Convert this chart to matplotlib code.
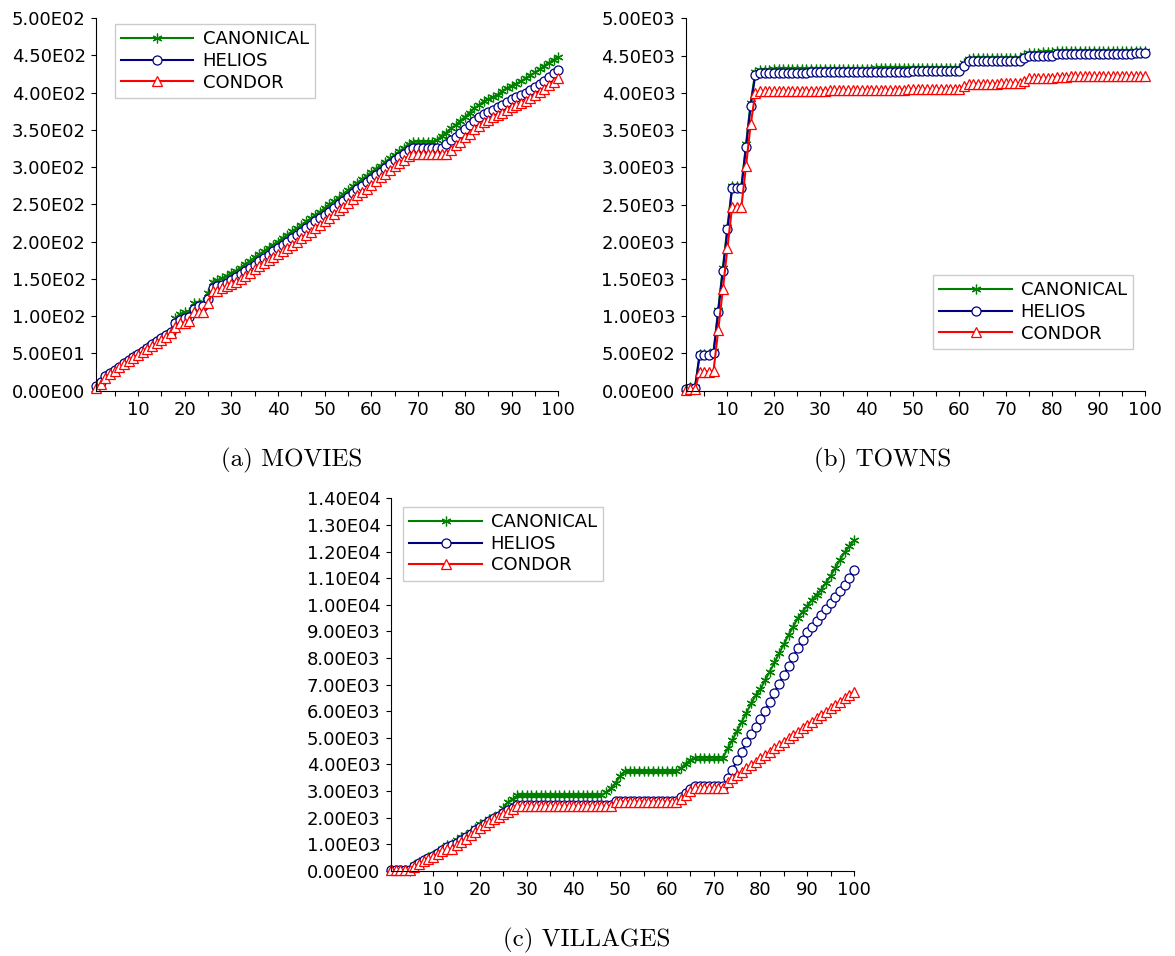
import numpy as np
import matplotlib
matplotlib.use('Agg')
import matplotlib.pyplot as plt
from matplotlib.ticker import FuncFormatter

x = list(range(1, 101))

# (a) MOVIES
movies_canonical = [5, 11, 20, 24, 28, 32, 37, 41, 46, 49,
                    53, 58, 62, 66, 70, 74, 79, 97, 103, 105,
                    105, 117, 118, 119, 131, 146, 148, 151, 154, 158,
                    161, 165, 170, 174, 179, 183, 187, 192, 196, 200,
                    205, 209, 214, 218, 222, 227, 231, 236, 240, 245,
                    250, 254, 259, 264, 269, 274, 279, 284, 288, 293,
                    298, 302, 307, 312, 316, 321, 326, 331, 334, 334,
                    334, 334, 334, 336, 342, 346, 352, 356, 362, 367,
                    373, 379, 383, 388, 391, 394, 397, 402, 406, 409,
                    412, 415, 419, 423, 427, 431, 436, 440, 444, 448]
movies_helios = [6, 11, 20, 24, 28, 32, 37, 41, 45, 49,
                 53, 57, 62, 66, 70, 74, 78, 90, 95, 97,
                 99, 110, 113, 114, 123, 137, 140, 142, 145, 148,
                 152, 156, 160, 165, 169, 174, 178, 182, 187, 191,
                 196, 200, 205, 209, 213, 218, 222, 227, 231, 236,
                 240, 245, 250, 255, 260, 265, 270, 275, 280, 284,
                 289, 294, 299, 304, 309, 314, 318, 323, 326, 326,
                 326, 326, 326, 326, 326, 331, 336, 341, 346, 351,
                 357, 362, 367, 371, 374, 376, 380, 383, 387, 391,
                 394, 397, 400, 403, 407, 411, 416, 421, 426, 430]
movies_condor = [4, 9, 17, 22, 26, 31, 35, 40, 44, 48,
                 52, 56, 60, 64, 68, 72, 77, 85, 90, 90,
                 93, 105, 106, 106, 117, 133, 134, 137, 140, 143,
                 146, 150, 154, 158, 163, 167, 171, 175, 179, 183,
                 187, 192, 196, 200, 205, 209, 213, 218, 222, 227,
                 232, 237, 242, 247, 252, 257, 262, 267, 271, 276,
                 281, 286, 291, 296, 301, 306, 310, 315, 318, 318,
                 318, 318, 318, 318, 318, 318, 323, 329, 334, 340,
                 345, 351, 355, 360, 363, 367, 370, 373, 377, 380,
                 383, 386, 389, 393, 397, 401, 405, 410, 414, 419]

# (b) TOWNS
towns_canonical = [20, 45, 45, 490, 490, 490, 530, 1090, 1650, 2200,
                   2750, 2750, 2750, 3310, 3870, 4280, 4310, 4312, 4312, 4314,
                   4314, 4314, 4315, 4315, 4316, 4316, 4317, 4318, 4318, 4320,
                   4320, 4321, 4322, 4322, 4323, 4323, 4324, 4325, 4325, 4326,
                   4326, 4327, 4327, 4328, 4328, 4329, 4329, 4330, 4330, 4331,
                   4331, 4332, 4332, 4333, 4333, 4334, 4336, 4337, 4338, 4340,
                   4395, 4460, 4462, 4462, 4463, 4463, 4464, 4464, 4465, 4465,
                   4466, 4466, 4466, 4505, 4540, 4541, 4541, 4542, 4542, 4543,
                   4562, 4564, 4564, 4565, 4565, 4565, 4566, 4566, 4566, 4566,
                   4567, 4567, 4567, 4567, 4568, 4568, 4568, 4568, 4568, 4568]
towns_helios = [19, 40, 40, 479, 479, 479, 510, 1061, 1612, 2167,
                2718, 2718, 2718, 3277, 3828, 4240, 4265, 4267, 4268, 4268,
                4269, 4270, 4270, 4271, 4271, 4272, 4272, 4273, 4273, 4275,
                4276, 4276, 4277, 4277, 4278, 4279, 4279, 4280, 4281, 4281,
                4282, 4282, 4283, 4283, 4284, 4285, 4285, 4286, 4286, 4287,
                4287, 4288, 4289, 4289, 4290, 4291, 4293, 4294, 4295, 4297,
                4355, 4422, 4423, 4423, 4424, 4424, 4425, 4425, 4426, 4426,
                4427, 4427, 4428, 4462, 4497, 4498, 4498, 4499, 4499, 4500,
                4522, 4524, 4524, 4525, 4525, 4525, 4526, 4526, 4526, 4527,
                4527, 4527, 4527, 4528, 4528, 4528, 4528, 4529, 4529, 4529]
towns_condor = [10, 20, 20, 255, 255, 255, 270, 815, 1362, 1921,
                2471, 2471, 2471, 3022, 3578, 3994, 4020, 4022, 4022, 4023,
                4024, 4024, 4025, 4026, 4026, 4027, 4027, 4028, 4029, 4030,
                4031, 4032, 4033, 4034, 4034, 4035, 4036, 4037, 4037, 4038,
                4039, 4040, 4040, 4041, 4042, 4043, 4043, 4044, 4045, 4046,
                4047, 4048, 4049, 4050, 4051, 4052, 4053, 4055, 4056, 4058,
                4090, 4122, 4123, 4123, 4124, 4124, 4125, 4125, 4126, 4126,
                4127, 4127, 4128, 4158, 4198, 4199, 4199, 4200, 4200, 4201,
                4218, 4219, 4219, 4220, 4220, 4220, 4221, 4221, 4221, 4221,
                4222, 4222, 4222, 4222, 4223, 4223, 4223, 4223, 4223, 4224]

# (c) VILLAGES
villages_canonical = [30, 35, 35, 40, 45, 200, 320, 420, 500, 590,
                      700, 800, 950, 1010, 1140, 1250, 1340, 1460, 1620, 1750,
                      1850, 1950, 2030, 2130, 2340, 2590, 2680, 2830, 2840, 2840,
                      2840, 2840, 2840, 2840, 2840, 2840, 2840, 2840, 2840, 2840,
                      2840, 2840, 2840, 2840, 2840, 2840, 2950, 3100, 3300, 3560,
                      3750, 3750, 3750, 3750, 3750, 3750, 3750, 3750, 3750, 3750,
                      3750, 3750, 3850, 4030, 4160, 4250, 4250, 4250, 4250, 4250,
                      4250, 4250, 4600, 4910, 5250, 5600, 5940, 6290, 6600, 6830,
                      7170, 7490, 7830, 8180, 8510, 8860, 9180, 9500, 9740, 9960,
                      10190, 10380, 10570, 10830, 11080, 11380, 11690, 11970, 12200, 12420]
villages_helios = [30, 30, 30, 35, 40, 180, 300, 390, 470, 560,
                   680, 780, 880, 950, 1050, 1170, 1270, 1390, 1520, 1650,
                   1770, 1870, 1970, 2070, 2170, 2270, 2370, 2470, 2480, 2480,
                   2480, 2480, 2480, 2480, 2480, 2480, 2480, 2480, 2480, 2480,
                   2480, 2480, 2480, 2480, 2480, 2480, 2480, 2480, 2640, 2640,
                   2640, 2640, 2640, 2640, 2640, 2640, 2640, 2640, 2640, 2640,
                   2640, 2640, 2780, 2920, 3060, 3190, 3190, 3190, 3190, 3190,
                   3190, 3190, 3470, 3800, 4150, 4480, 4830, 5150, 5420, 5700,
                   6020, 6360, 6700, 7020, 7370, 7700, 8030, 8380, 8680, 8960,
                   9180, 9400, 9620, 9850, 10080, 10290, 10520, 10760, 11020, 11300]
villages_condor = [20, 20, 20, 25, 30, 150, 270, 360, 440, 530,
                   640, 740, 800, 820, 960, 1090, 1210, 1330, 1460, 1590,
                   1710, 1830, 1930, 2020, 2120, 2210, 2320, 2420, 2430, 2430,
                   2430, 2430, 2430, 2430, 2430, 2430, 2430, 2430, 2430, 2430,
                   2430, 2430, 2430, 2430, 2430, 2430, 2430, 2430, 2600, 2600,
                   2600, 2600, 2600, 2600, 2600, 2600, 2600, 2600, 2600, 2600,
                   2600, 2600, 2700, 2850, 2980, 3100, 3100, 3100, 3100, 3100,
                   3100, 3100, 3350, 3470, 3600, 3720, 3850, 3970, 4100, 4220,
                   4350, 4470, 4600, 4720, 4850, 4980, 5100, 5230, 5350, 5480,
                   5600, 5730, 5850, 5980, 6100, 6230, 6350, 6480, 6600, 6730]


def sci(v, pos):
    # 5.00E02 style labels, no sign on the exponent
    if v == 0:
        return '0.00E00'
    e = int(np.floor(np.log10(abs(v))))
    return '%.2fE%02d' % (v / 10 ** e, e)


fig = plt.figure(figsize=(11.75, 9.56), dpi=100)


def draw(rect, canon, helios, condor, ymax, ystep, loc, anchor):
    ax = fig.add_axes(rect)
    ax.plot(x, canon, color='#008000', lw=1.5, marker=(6, 2, 0), ms=7, mew=0.9,
            label='CANONICAL', clip_on=False)
    ax.plot(x, helios, color='#000080', lw=1.5, marker='o', ms=6.5, mfc='white',
            mew=0.9, label='HELIOS', clip_on=False)
    ax.plot(x, condor, color='#ff0000', lw=1.5, marker='^', ms=6.5, mfc='white',
            mew=0.9, label='CONDOR', clip_on=False)
    ax.set_xlim(1, 100)
    ax.set_ylim(0, ymax)
    ticks = list(range(5, 101, 5))
    ax.set_xticks(ticks)
    ax.set_xticklabels([str(t) if t % 10 == 0 else '' for t in ticks])
    ax.set_yticks(np.arange(0, ymax + 1, ystep))
    ax.yaxis.set_major_formatter(FuncFormatter(sci))
    ax.spines[['top', 'right']].set_visible(False)
    ax.tick_params(direction='out', length=3.5, width=0.8, labelsize=13, pad=4)
    ax.legend(loc=loc, bbox_to_anchor=anchor, borderaxespad=0, fontsize=13,
              handlelength=4, handletextpad=0.5, labelspacing=0.2, borderpad=0.35,
              fancybox=False, edgecolor='#cccccc', framealpha=1)
    return ax


draw([0.0817, 0.5915, 0.3934, 0.3896], movies_canonical, movies_helios, movies_condor,
     500, 50, 'upper left', (0.041, 0.984))
draw([0.5836, 0.5913, 0.3909, 0.3895], towns_canonical, towns_helios, towns_condor,
     5000, 500, 'lower right', (0.974, 0.112))
draw([0.3328, 0.0892, 0.3940, 0.3895], villages_canonical, villages_helios, villages_condor,
     14000, 1000, 'upper left', (0.026, 0.977))

fig.text(292 / 1175, 1 - 460 / 956, '(a) MOVIES', ha='center', va='center',
         fontsize=18, family='cmr10')
fig.text(883 / 1175, 1 - 460 / 956, '(b) TOWNS', ha='center', va='center',
         fontsize=18, family='cmr10')
fig.text(587 / 1175, 1 - 940 / 956, '(c) VILLAGES', ha='center', va='center',
         fontsize=18, family='cmr10')

fig.savefig('out.png', dpi=100)
